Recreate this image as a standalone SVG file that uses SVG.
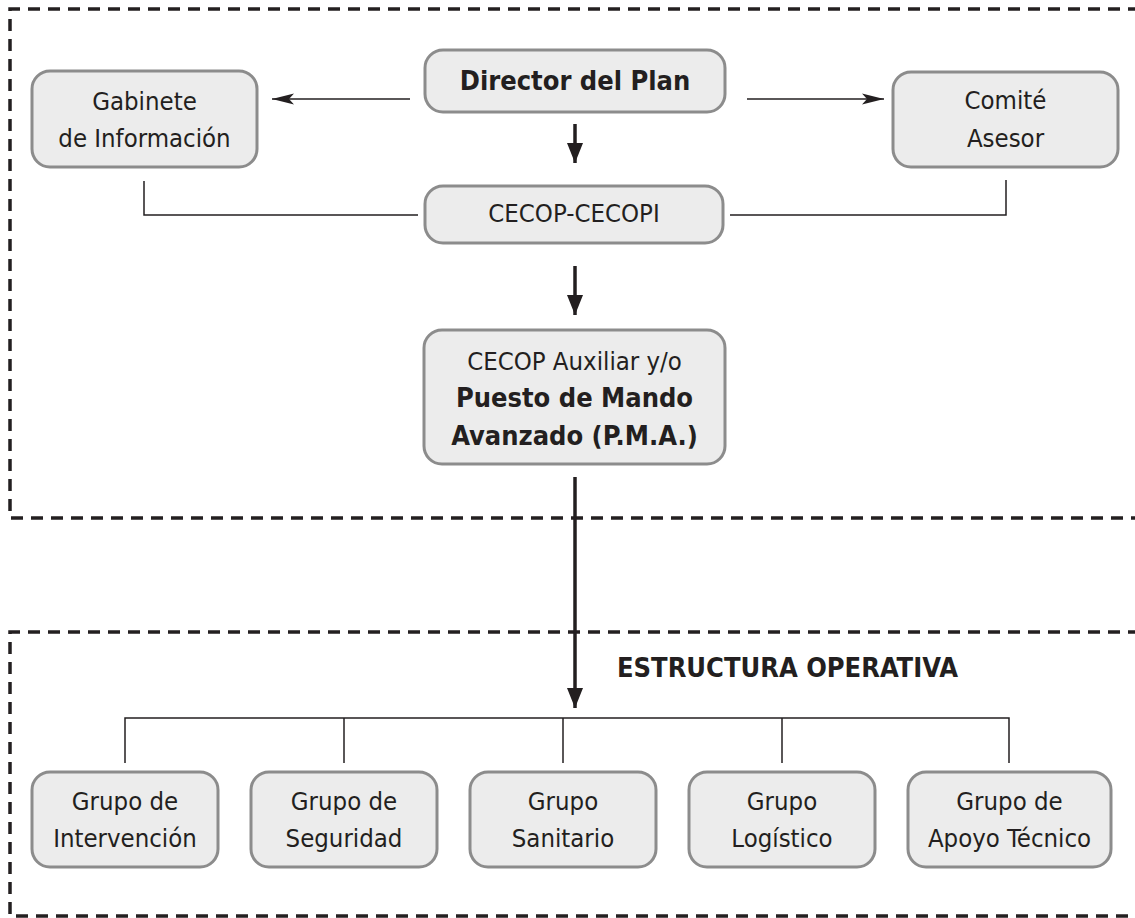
<svg xmlns="http://www.w3.org/2000/svg" width="1135" height="918" viewBox="0 0 1135 918">
<style>
.frame{fill:none;stroke:#231f20;stroke-width:3.5;stroke-dasharray:12 8}
.box{fill:#ececec;stroke:#8c8c8c;stroke-width:3}
.t{font-family:"DejaVu Sans Condensed","DejaVu Sans",sans-serif;font-size:25.5px;fill:#231f20;text-anchor:middle}
.b{font-weight:bold;font-size:27px}
.thin{fill:none;stroke:#231f20;stroke-width:1.5}
.thick{fill:none;stroke:#231f20;stroke-width:3.5}
</style>
<defs>
<marker id="ah" markerUnits="userSpaceOnUse" markerWidth="24" markerHeight="12" refX="22" refY="6" orient="auto">
<path d="M0,0.5 L22,6 L0,11.5 L5,6 Z" fill="#231f20"/>
</marker>
<marker id="ahb" markerUnits="userSpaceOnUse" markerWidth="22" markerHeight="16" refX="20" refY="8" orient="auto">
<path d="M0,0 L20,8 L0,16 Z" fill="#231f20"/>
</marker>
</defs>
<g id="frames">
<path class="frame" d="M1140,9 H10 V518 H1140"/>
<path class="frame" d="M1140,632 H10 V916 H1140"/>
</g>
<g id="connectors">
<line class="thin" x1="410" y1="99" x2="272" y2="99" marker-end="url(#ah)"/>
<line class="thin" x1="747" y1="99" x2="884" y2="99" marker-end="url(#ah)"/>
<line class="thick" x1="575" y1="124" x2="575" y2="163" marker-end="url(#ahb)"/>
<polyline class="thin" points="144,181 144,215 418,215"/>
<polyline class="thin" points="1006,180 1006,215 730,215"/>
<line class="thick" x1="575" y1="266" x2="575" y2="315" marker-end="url(#ahb)"/>
<line class="thick" x1="575" y1="477" x2="575" y2="708" marker-end="url(#ahb)"/>
<polyline class="thin" points="125,763 125,718 1009,718 1009,763"/>
<line class="thin" x1="344" y1="718" x2="344" y2="763"/>
<line class="thin" x1="563" y1="718" x2="563" y2="763"/>
<line class="thin" x1="782" y1="718" x2="782" y2="763"/>
</g>
<g id="gabinete">
<rect class="box" x="32" y="71" width="225" height="96" rx="18"/>
<text class="t" x="144.5" y="110">Gabinete</text>
<text class="t" x="144.5" y="147">de Información</text>
</g>
<g id="director">
<rect class="box" x="425" y="50" width="300" height="62" rx="18"/>
<text class="t b" x="575" y="90">Director del Plan</text>
</g>
<g id="comite">
<rect class="box" x="893" y="72" width="225" height="95" rx="18"/>
<text class="t" x="1005.5" y="109">Comité</text>
<text class="t" x="1005.5" y="147">Asesor</text>
</g>
<g id="cecop">
<rect class="box" x="425" y="186" width="298" height="57" rx="18"/>
<text class="t" x="574" y="222">CECOP-CECOPI</text>
</g>
<g id="pma">
<rect class="box" x="424" y="330" width="301" height="134" rx="18"/>
<text class="t" x="574.5" y="370">CECOP Auxiliar y/o</text>
<text class="t b" x="574.5" y="407">Puesto de Mando</text>
<text class="t b" x="574.5" y="445">Avanzado (P.M.A.)</text>
</g>
<g id="estructura">
<text class="t b" x="617" y="677" style="text-anchor:start">ESTRUCTURA OPERATIVA</text>
</g>
<g id="intervencion">
<rect class="box" x="32" y="772" width="186" height="95" rx="18"/>
<text class="t" x="125" y="810">Grupo de</text>
<text class="t" x="125" y="847">Intervención</text>
</g>
<g id="seguridad">
<rect class="box" x="251" y="772" width="186" height="95" rx="18"/>
<text class="t" x="344" y="810">Grupo de</text>
<text class="t" x="344" y="847">Seguridad</text>
</g>
<g id="sanitario">
<rect class="box" x="470" y="772" width="186" height="95" rx="18"/>
<text class="t" x="563" y="810">Grupo</text>
<text class="t" x="563" y="847">Sanitario</text>
</g>
<g id="logistico">
<rect class="box" x="689" y="772" width="186" height="95" rx="18"/>
<text class="t" x="782" y="810">Grupo</text>
<text class="t" x="782" y="847">Logístico</text>
</g>
<g id="apoyo">
<rect class="box" x="908" y="772" width="203" height="95" rx="18"/>
<text class="t" x="1009.5" y="810">Grupo de</text>
<text class="t" x="1009.5" y="847">Apoyo Técnico</text>
</g>
</svg>
